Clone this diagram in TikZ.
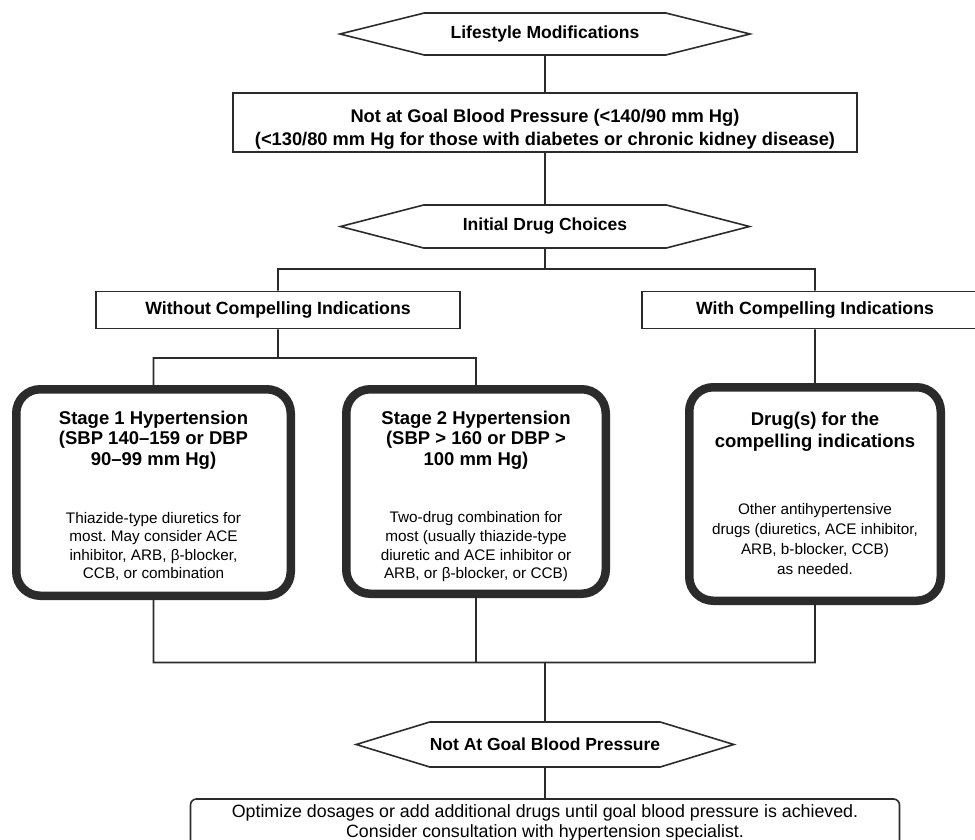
\documentclass[tikz,border=0pt]{standalone}
\usepackage{fontspec}
\setmainfont{Liberation Sans}
\frenchspacing
\usetikzlibrary{positioning,shapes.symbols}
\definecolor{linegray}{HTML}{2B2B2B}
\tikzset{hex node/.style={signal,signal to=east and west,draw=linegray,fill=white,line width=1.6pt,inner sep=0pt,font=\bfseries\fontsize{17.5}{20}\selectfont},
  box node/.style={rectangle,draw=linegray,fill=white,line width=1.6pt,inner sep=0pt,align=center},
  stage node/.style={rectangle,draw=linegray,line width=8.5pt,rounded corners=24pt,inner sep=0pt},
  head text/.style={align=center,inner sep=0pt,font=\bfseries\fontsize{18.5}{20.3}\selectfont},
  body text/.style={align=center,inner sep=0pt,font=\fontsize{15.3}{18.6}\selectfont},
  link/.style={draw=linegray,line width=1.6pt},
}

\begin{document}
\begin{tikzpicture}[x=1pt,y=-1pt]
\useasboundingbox (0,0) rectangle (975,840);
\clip (0,0) rectangle (975,840);

%% top of the chart
\node[hex node,minimum width=410pt,minimum height=42pt,signal pointer angle=28] (life) at (545,34) {Lifestyle Modifications};
\node[box node,minimum width=624pt,minimum height=59pt,text height=48.5pt,text depth=2pt,font=\bfseries\fontsize{18.3}{23}\selectfont] (goal) at (545,122.5)
  {Not at Goal Blood Pressure (<140/90 mm Hg)\\(<130/80 mm Hg for those with diabetes or chronic kidney disease)};
\node[hex node,minimum width=409pt,minimum height=43pt,signal pointer angle=29] (init) at (545,226.5) {Initial Drug Choices};

\node[box node,minimum width=364pt,minimum height=37pt,font=\bfseries\fontsize{17.7}{20}\selectfont] (woci) at (278,310) {Without Compelling Indications};
\node[box node,minimum width=346pt,minimum height=37pt,font=\bfseries\fontsize{17.7}{20}\selectfont] (wci) at (815,310) {With Compelling Indications};

%% the three drug boxes
\node[stage node,minimum width=274.5pt,minimum height=206.5pt] (s1) at (153.5,492.5) {};
\node[head text,below=26pt of s1.north] (s1h) {Stage 1 Hypertension\\(SBP 140–159 or DBP\\90–99 mm Hg)};
\node[body text,above=19pt of s1.south] (s1b) {Thiazide-type diuretics for\\most. May consider ACE\\inhibitor, ARB, β-blocker,\\CCB, or combination};

\node[stage node,minimum width=259.5pt,minimum height=204.5pt] (s2) at (476,491.5) {};
\node[head text,below=26pt of s2.north] (s2h) {Stage 2 Hypertension\\(SBP > 160 or DBP >\\100 mm Hg)};
\node[body text,above=16pt of s2.south] (s2b) {Two-drug combination for\\most (usually thiazide-type\\diuretic and ACE inhibitor or\\ARB, or β-blocker, or CCB)};

\node[stage node,minimum width=251.5pt,minimum height=213.5pt] (dci) at (815,494) {};
\node[head text,font=\bfseries\fontsize{18.5}{22}\selectfont,below=29pt of dci.north] (dcih) {Drug(s) for the\\compelling indications};
\node[body text,font=\fontsize{15.3}{20}\selectfont,above=30pt of dci.south] (dcib) {Other antihypertensive\\drugs (diuretics, ACE inhibitor,\\ARB, b-blocker, CCB)\\as needed.};

%% bottom of the chart
\node[hex node,minimum width=364pt,minimum height=45pt,signal pointer angle=34] (nag) at (545,744.5) {Not At Goal Blood Pressure};
\node[box node,rounded corners=6pt,minimum width=709pt,minimum height=48pt,font=\fontsize{17.8}{20}\selectfont] (final) at (545,823)
  {Optimize dosages or add additional drugs until goal blood pressure is achieved.\\Consider consultation with hypertension specialist.};

\coordinate (split1) at (545,269);
\coordinate (split2) at (278,358);
\coordinate (merge) at (545,662.5);

\path[link]
  (life) -- (goal)
  (goal) -- (init)
  (init) -- (split1) -| (woci)
  (split1) -| (wci)
  (woci) -- (split2) -| (s1)
  (split2) -| (s2)
  (wci) -- (dci)
  (s1) |- (merge)
  (s2) |- (merge)
  (dci) |- (merge)
  (merge) -- (nag)
  (nag) -- (final)
  ;
\end{tikzpicture}
\end{document}
